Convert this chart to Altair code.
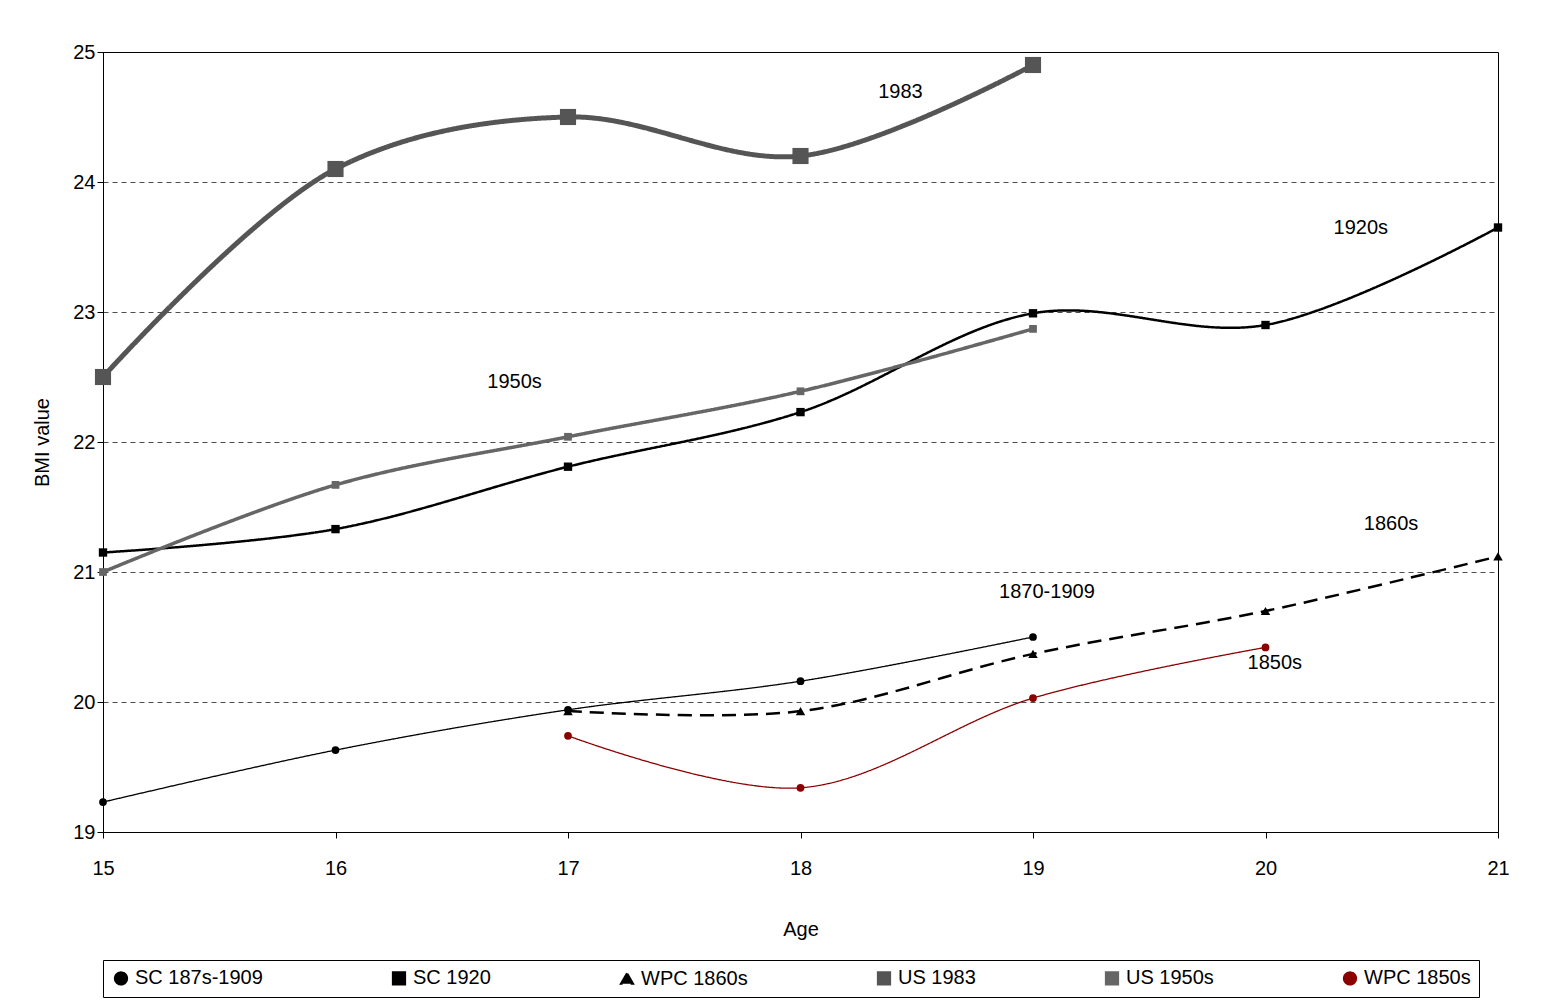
import altair as alt
import pandas as pd

series_names = ["SC 187s-1909", "SC 1920", "WPC 1860s", "US 1983", "US 1950s", "WPC 1850s"]
series_colors = ["#000000", "#000000", "#000000", "#555555", "#666666", "#8b0000"]
series_dash = [[1, 0], [1, 0], [14, 8], [1, 0], [1, 0], [1, 0]]
series_width = [1.3, 2.5, 2.5, 5, 3.5, 1.3]
series_shape = ["circle", "square", "triangle-up", "square", "square", "circle"]
series_size = [60, 70, 90, 260, 60, 60]

sc_1870_age = [15, 16, 17, 18, 19]
sc_1870_bmi = [19.23, 19.63, 19.94, 20.16, 20.50]
sc_1920_age = [15, 16, 17, 18, 19, 20, 21]
sc_1920_bmi = [21.15, 21.33, 21.81, 22.23, 22.99, 22.90, 23.65]
wpc_1860_age = [17, 18, 19, 20, 21]
wpc_1860_bmi = [19.93, 19.93, 20.37, 20.70, 21.12]
us_1983_age = [15, 16, 17, 18, 19]
us_1983_bmi = [22.50, 24.10, 24.50, 24.20, 24.90]
us_1950_age = [15, 16, 17, 18, 19]
us_1950_bmi = [21.00, 21.67, 22.04, 22.39, 22.87]
wpc_1850_age = [17, 18, 19, 20]
wpc_1850_bmi = [19.74, 19.34, 20.03, 20.42]

label_text = ["1983", "1920s", "1950s", "1860s", "1870-1909", "1850s"]
label_x = [18.43, 20.41, 16.77, 20.54, 19.06, 20.04]
label_y = [24.69, 23.65, 22.46, 21.37, 20.85, 20.30]

ages_list = [sc_1870_age, sc_1920_age, wpc_1860_age, us_1983_age, us_1950_age, wpc_1850_age]
bmi_list = [sc_1870_bmi, sc_1920_bmi, wpc_1860_bmi, us_1983_bmi, us_1950_bmi, wpc_1850_bmi]
labels = pd.DataFrame({"text": label_text, "x": label_x, "y": label_y})

x = alt.X("Age:Q", title="Age", scale=alt.Scale(domain=[15, 21], nice=False),
          axis=alt.Axis(values=list(range(15, 22)), format="d", grid=False, tickSize=6,
                        labelFlush=False, labelFontSize=20, titleFontSize=20,
                        titleFontWeight="normal", titlePadding=41, labelPadding=20))
y = alt.Y("BMI:Q", title="BMI value", scale=alt.Scale(domain=[19, 25], nice=False),
          axis=alt.Axis(values=list(range(19, 26)), format="d", gridDash=[5, 4],
                        gridColor="#000000", gridWidth=0.7, tickSize=6, labelFontSize=20,
                        labelFlush=False, titleFontSize=20, titleFontWeight="normal",
                        titlePadding=20))
legend = alt.Legend(title=None, orient="bottom", direction="horizontal", columns=6,
                    labelFontSize=20, symbolSize=150, symbolStrokeWidth=2,
                    strokeColor="#000000", padding=8, columnPadding=125, offset=21, labelLimit=300)
color = alt.Color("Series:N", scale=alt.Scale(domain=series_names, range=series_colors), legend=legend)
dash = alt.StrokeDash("Series:N", scale=alt.Scale(domain=series_names, range=series_dash), legend=legend)
shape = alt.Shape("Series:N", scale=alt.Scale(domain=series_names, range=series_shape), legend=legend)

layers = []
for i, name in enumerate(series_names):
    df = pd.DataFrame({"Series": name, "Age": ages_list[i], "BMI": bmi_list[i]})
    layers.append(alt.Chart(df).mark_line(interpolate="catmull-rom", strokeWidth=series_width[i]).encode(
        x=x, y=y, color=color, strokeDash=dash))
    layers.append(alt.Chart(df).mark_point(filled=True, opacity=1, size=series_size[i]).encode(
        x=x, y=y, color=color, shape=shape))

text = alt.Chart(labels).mark_text(fontSize=20, color="#000000").encode(
    x=alt.X("x:Q"), y=alt.Y("y:Q"), text="text:N"
)

chart = alt.layer(*layers, text).properties(
    width=1395, height=780, padding={"top": 34, "left": 24, "right": 10, "bottom": 5}
).configure_view(stroke="#000000", strokeWidth=1).configure_axis(
    domainColor="#000000", tickColor="#000000", labelColor="#000000", titleColor="#000000",
    labelFont="Liberation Sans", titleFont="Liberation Sans"
).configure_legend(labelFont="Liberation Sans").configure_text(font="Liberation Sans")

chart.save("out.html", embed_options={"renderer": "svg", "actions": False})
